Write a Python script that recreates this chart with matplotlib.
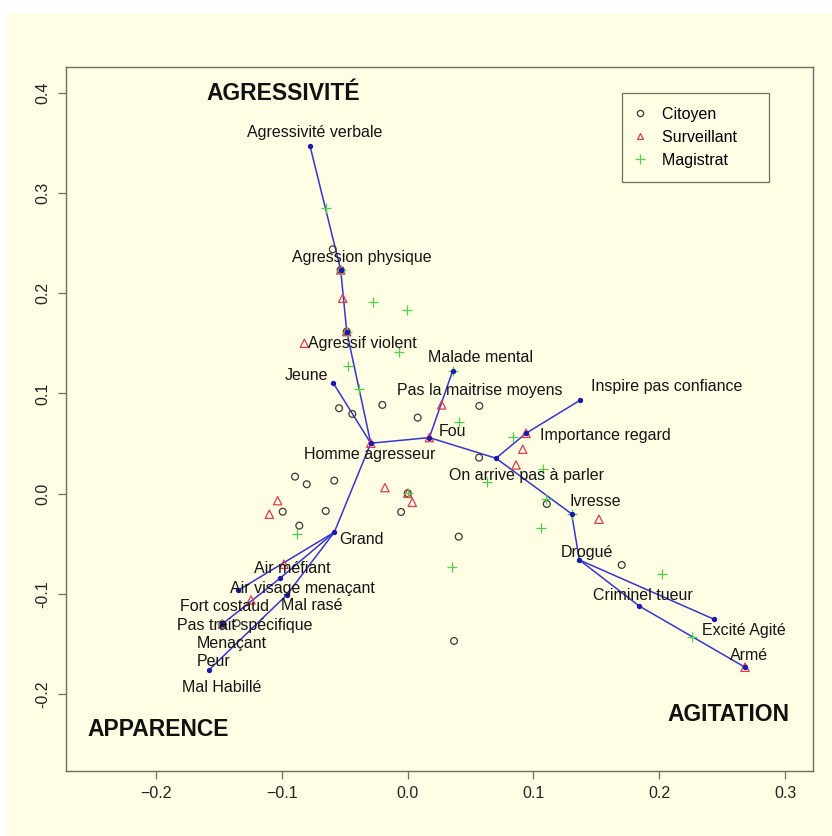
import matplotlib
matplotlib.use("Agg")
import matplotlib.pyplot as plt
from matplotlib.patches import Rectangle
from matplotlib.lines import Line2D

plt.rcParams['font.family'] = ['Liberation Sans', 'DejaVu Sans']

# individuals projected on the first factorial plane
citoyen_x = [-0.0595, -0.0532, -0.0484, -0.0545, -0.0440, -0.0201, 0.0080, 0.0570, 0.0568,
             -0.0895, -0.0802, -0.0583, -0.0993, -0.0651, -0.0052, -0.0861, 0.1106, 0.0001,
             0.0406, 0.0369, 0.1702, -0.1359, -0.1473]
citoyen_y = [0.2438, 0.2232, 0.1617, 0.0853, 0.0796, 0.0886, 0.0759, 0.0876, 0.0360,
             0.0171, 0.0095, 0.0131, -0.0179, -0.0172, -0.0182, -0.0318, -0.0102, 0.0005,
             -0.0428, -0.1468, -0.0710, -0.1291, -0.1299]

surv_x = [-0.0821, -0.0516, -0.0532, -0.0484, 0.0271, 0.0941, 0.0915, 0.0862, -0.0180,
          0.0037, 0.0001, 0.1521, -0.0293, 0.0173, -0.1033, -0.1099, -0.0983, -0.1245,
          -0.1473, 0.2682]
surv_y = [0.1501, 0.1950, 0.2232, 0.1617, 0.0886, 0.0603, 0.0444, 0.0287, 0.0061,
          -0.0085, 0.0005, -0.0254, 0.0504, 0.0560, -0.0069, -0.0204, -0.0703, -0.1059,
          -0.1299, -0.1730]

magis_x = [-0.0651, -0.0273, -0.0002, -0.0066, -0.0471, -0.0386, 0.0411, 0.0835, 0.1074,
           0.0634, 0.1098, 0.1060, 0.0001, -0.0882, 0.0353, 0.2020, 0.2258, -0.0532,
           -0.0484, -0.1473, 0.0358, 0.1304]
magis_y = [0.2847, 0.1916, 0.1833, 0.1417, 0.1278, 0.1045, 0.0713, 0.0569, 0.0247,
           0.0115, -0.0055, -0.0344, 0.0005, -0.0404, -0.0727, -0.0800, -0.1431, 0.2232,
           0.1617, -0.1299, 0.1225, -0.0201]

# tree of the descriptive terms
node_names = ['verbale', 'physique', 'violent', 'homme', 'jeune', 'fou', 'malade', 'arrive',
              'regard', 'confiance', 'ivresse', 'drogue', 'excite', 'criminel', 'arme',
              'grand', 'visage', 'mefiant', 'trait', 'rase', 'peur']
node_x = [-0.0776, -0.0532, -0.0484, -0.0293, -0.0590, 0.0173, 0.0358, 0.0703,
          0.0941, 0.1370, 0.1304, 0.1365, 0.2436, 0.1840, 0.2682,
          -0.0583, -0.1346, -0.1014, -0.1473, -0.0961, -0.1579]
node_y = [0.3469, 0.2232, 0.1617, 0.0504, 0.1102, 0.0560, 0.1225, 0.0354,
          0.0603, 0.0932, -0.0201, -0.0660, -0.1252, -0.1119, -0.1730,
          -0.0384, -0.0962, -0.0843, -0.1299, -0.1009, -0.1757]
edges = [('verbale', 'physique'), ('physique', 'violent'), ('violent', 'homme'),
         ('jeune', 'homme'), ('homme', 'fou'), ('fou', 'malade'), ('fou', 'arrive'),
         ('arrive', 'regard'), ('regard', 'confiance'), ('arrive', 'ivresse'),
         ('ivresse', 'drogue'), ('drogue', 'excite'), ('drogue', 'criminel'),
         ('criminel', 'arme'), ('homme', 'grand'), ('grand', 'visage'),
         ('grand', 'mefiant'), ('mefiant', 'trait'), ('grand', 'rase'), ('rase', 'peur')]

term_labels = ['Agressivité verbale', 'Agression physique', 'Agressif violent', 'Jeune',
               'Malade mental', 'Pas la maitrise moyens', 'Fou', 'Homme agresseur',
               'On arrive pas à parler', 'Inspire pas confiance', 'Importance regard',
               'Ivresse', 'Drogué', 'Criminel tueur', 'Excité Agité', 'Armé', 'Grand',
               'Air méfiant', 'Air visage menaçant', 'Fort costaud', 'Mal rasé',
               'Pas trait spécifique', 'Menaçant', 'Peur', 'Mal Habillé']
term_x = [-0.0736, -0.0365, -0.0357, -0.0802, 0.0576, 0.0570, 0.0355, -0.0304,
          0.0941, 0.2060, 0.1569, 0.1490, 0.1424, 0.1869, 0.2669, 0.2716, -0.0365,
          -0.0913, -0.0834, -0.1452, -0.0762, -0.1298, -0.1398, -0.1545, -0.1478]
term_y = [0.3605, 0.2355, 0.1494, 0.1178, 0.1357, 0.1025, 0.0619, 0.0387,
          0.0181, 0.1068, 0.0576, -0.0079, -0.0583, -0.1016, -0.1365, -0.1615, -0.0461,
          -0.0743, -0.0942, -0.1126, -0.1119, -0.1318, -0.1491, -0.1674, -0.1930]

pole_labels = ['AGRESSIVITÉ', 'APPARENCE', 'AGITATION']
pole_x = [-0.0988, -0.1984, 0.2547]
pole_y = [0.3994, -0.2349, -0.2206]

groups = ['Citoyen', 'Surveillant', 'Magistrat']

cream = '#fffde3'
frame = '#6e6e62'
blue = '#3535d8'

fig = plt.figure(figsize=(8.32, 8.36), dpi=100, facecolor='white')
fig.patches.append(Rectangle((7 / 832, 0), 1, 1 - 14 / 836, transform=fig.transFigure,
                             facecolor=cream, edgecolor='none', zorder=-10))
ax = fig.add_axes([65.7 / 832, 65 / 836, 747 / 832, 704.3 / 836])
ax.set_facecolor(cream)

pos = dict(zip(node_names, zip(node_x, node_y)))
for a, b in edges:
    ax.plot([pos[a][0], pos[b][0]], [pos[a][1], pos[b][1]], color=blue, lw=1.1, zorder=2)

ax.scatter(citoyen_x, citoyen_y, s=24, marker='o', facecolors='none', edgecolors='#3a3a3a',
           linewidths=0.9, zorder=3)
ax.scatter(surv_x, surv_y, s=36, marker='^', facecolors='none', edgecolors='#e23b4b',
           linewidths=0.9, zorder=3)
ax.scatter(magis_x, magis_y, s=50, marker='+', color='#4fd04a', linewidths=0.9, zorder=3)
ax.scatter(node_x, node_y, s=8, color='#1a1ab0', zorder=4)

for t, x, y in zip(term_labels, term_x, term_y):
    ax.text(x, y, t, fontsize=11.5, color='#151515', ha='center', va='center', zorder=5)
for t, x, y in zip(pole_labels, pole_x, pole_y):
    ax.text(x, y, t, fontsize=16.5, fontweight='bold', color='#111111',
            ha='center', va='center', zorder=5)

ax.set_xlim(-0.2718, 0.322)
ax.set_ylim(-0.2765, 0.4259)
ax.set_xticks([-0.2, -0.1, 0.0, 0.1, 0.2, 0.3])
ax.set_yticks([-0.2, -0.1, 0.0, 0.1, 0.2, 0.3, 0.4])
ax.set_xticklabels(['−0.2', '−0.1', '0.0', '0.1', '0.2', '0.3'])
ax.set_yticklabels(['-0.2', '-0.1', '0.0', '0.1', '0.2', '0.3', '0.4'], rotation=90, va='center')
ax.tick_params(direction='out', length=6, width=0.9, color=frame, labelsize=11.5,
               labelcolor='#222222', pad=5)
for s in ax.spines.values():
    s.set_color(frame)
    s.set_linewidth(1.0)

handles = [
    Line2D([], [], ls='none', marker='o', ms=4.5, mfc='none', mec='#3a3a3a', mew=0.9),
    Line2D([], [], ls='none', marker='^', ms=5, mfc='none', mec='#e23b4b', mew=0.9),
    Line2D([], [], ls='none', marker='+', ms=6.5, color='#4fd04a', mew=0.9),
]
# pad the labels on the right so the box is as wide as R draws it
leg = ax.legend(handles, [g + '    ' for g in groups], loc='upper left',
                bbox_to_anchor=(0.7443, 0.9631), fontsize=11.5, frameon=True, fancybox=False,
                framealpha=1, facecolor=cream, edgecolor=frame, handlelength=0.5,
                handletextpad=1.1, borderpad=0.9, labelspacing=0.5, borderaxespad=0)
leg.get_frame().set_linewidth(0.9)

fig.savefig('out.png', dpi=100, facecolor=fig.get_facecolor())
